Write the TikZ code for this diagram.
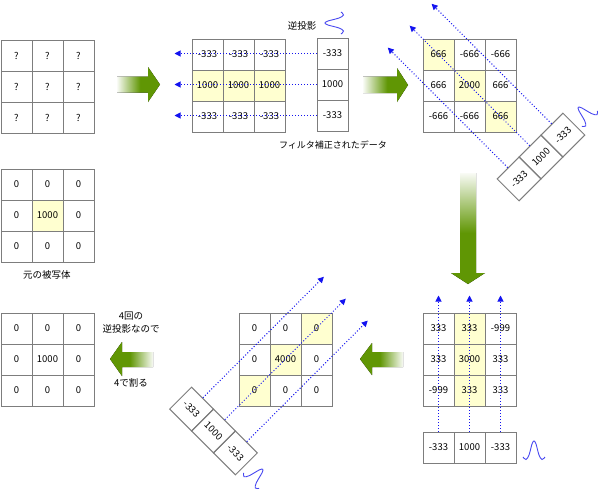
\documentclass[tikz,border=0pt]{standalone}
\usepackage{fontspec}
\setmainfont{Noto Sans CJK JP}
\usetikzlibrary{arrows.meta}
\definecolor{agreen}{RGB}{96,150,4}
\definecolor{cellyel}{RGB}{255,255,208}
\definecolor{gridgray}{RGB}{125,125,125}
\definecolor{dotblue}{RGB}{20,20,240}
\definecolor{waveblue}{RGB}{70,70,240}
\pgfdeclarehorizontalshading{hfade}{100bp}{color(0bp)=(agreen!4); color(25bp)=(agreen!4); color(52bp)=(agreen); color(100bp)=(agreen)}
\tikzset{
 cell/.style={draw=gridgray, line width=1pt, minimum size=31pt, inner sep=0pt, font=\fontsize{9.5}{10}\selectfont},
 proj/.style={dotblue, dotted, line width=1pt, -{Triangle[length=6pt,width=6pt]}},
 wave/.style={waveblue, line width=0.9pt},
 bigarrow/.style={shading=hfade, draw=none},
 lbl/.style={font=\fontsize{9.5}{11}\selectfont, inner sep=0pt}
}
\newcommand\mygrid[4]{%
 \foreach \v/\fc [count=\i from 0] in {#4} {
   \pgfmathtruncatemacro\rr{div(\i,3)}
   \pgfmathtruncatemacro\cc{mod(\i,3)}
   \node[cell, fill=\fc] (#1-\rr\cc) at ({#2+15.5+31*\cc},{#3+15.5+31*\rr}) {\v};
 }}
\begin{document}
\begin{tikzpicture}[x=1pt,y=-1pt]
\useasboundingbox (0,0) rectangle (600,493);
% grids
\mygrid{g1}{1}{40}{?/white,?/white,?/white,?/white,?/white,?/white,?/white,?/white,?/white}
\mygrid{g2}{1}{169}{0/white,0/white,0/white,0/white,1000/cellyel,0/white,0/white,0/white,0/white}
\mygrid{g3}{1}{313}{0/white,0/white,0/white,0/white,1000/white,0/white,0/white,0/white,0/white}
\mygrid{g4}{192}{39}{-333/white,-333/white,-333/white,1000/cellyel,1000/cellyel,1000/cellyel,-333/white,-333/white,-333/white}
\mygrid{g5}{423}{39}{666/cellyel,-666/white,-666/white,666/white,2000/cellyel,666/white,-666/white,-666/white,666/cellyel}
\mygrid{g6}{423}{313}{333/white,333/cellyel,-999/white,333/white,3000/cellyel,333/white,-999/white,333/cellyel,333/white}
\mygrid{g7}{239}{313}{0/white,0/white,0/cellyel,0/white,4000/cellyel,0/white,0/cellyel,0/white,0/white}
% strips
\node[cell] (s4-0) at (332.5,53.5) {-333};
\node[cell] (s4-1) at (332.5,84.5) {1000};
\node[cell] (s4-2) at (332.5,115.5) {-333};
\node[cell] (s6-0) at (438.5,447.5) {-333};
\node[cell] (s6-1) at (469.5,447.5) {1000};
\node[cell] (s6-2) at (500.5,447.5) {-333};
\node[cell, rotate=45] (s5-0) at (519.08,178.92) {-333};
\node[cell, rotate=45] (s5-1) at (541,157) {1000};
\node[cell, rotate=45] (s5-2) at (562.92,135.08) {-333};
\node[cell, rotate=-45] (s7-0) at (191.58,409.08) {-333};
\node[cell, rotate=-45] (s7-1) at (213.5,431) {1000};
\node[cell, rotate=-45] (s7-2) at (235.42,452.92) {-333};
% back projections
\foreach \k in {0,1,2} {
  \draw[proj] (s4-\k.west) -- ++(-142,0);
  \draw[proj] (s6-\k.north) -- ++(0,-136);
  \draw[proj] (s5-\k.north) -- ++(-120,-120);
  \draw[proj] (s7-\k.north) -- ++(121,-121);
}
% big arrows
\fill[bigarrow] (117,76.5) -- (148,76.5) -- (148,67) -- (160,84.5) -- (148,102) -- (148,92.5) -- (117,92.5) -- cycle;
\fill[bigarrow] (363,76.5) -- (397,76.5) -- (397,68) -- (408,85) -- (397,102) -- (397,93) -- (363,93) -- cycle;
\fill[bigarrow, shading angle=-90] (460,173) -- (476,173) -- (476,273) -- (485,273) -- (468,284) -- (451,273) -- (460,273) -- cycle;
\fill[bigarrow, shading angle=180] (403,352) -- (372,352) -- (372,343) -- (360,359) -- (372,375) -- (372,367) -- (403,367) -- cycle;
\fill[bigarrow, shading angle=180] (153,352) -- (122,352) -- (122,342) -- (110,359) -- (122,376) -- (122,367) -- (153,367) -- cycle;
% waves
\draw[wave, shift={(534,459)}] plot[smooth, tension=0.6] coordinates {(-11,-2) (-8,0.5) (-5,-4) (-2,-15) (0,-18) (2,-15) (5,-4) (8,0.5) (11,-2)};
\draw[wave, shift={(343,23)}, rotate=90] plot[smooth, tension=0.6] coordinates {(-11,-2) (-8,0.5) (-5,-4) (-2,-15) (0,-18) (2,-15) (5,-4) (8,0.5) (11,-2)};
\draw[wave, shift={(591,120)}, rotate=45] plot[smooth, tension=0.6] coordinates {(-11,-2) (-8,0.5) (-5,-4) (-2,-15) (0,-18) (2,-15) (5,-4) (8,0.5) (11,-2)};
\draw[wave, shift={(250,482)}, rotate=-45] plot[smooth, tension=0.6] coordinates {(-11,-2) (-8,0.5) (-5,-4) (-2,-15) (0,-18) (2,-15) (5,-4) (8,0.5) (11,-2)};
% labels
\node[lbl] (l1) at (302,26) {逆投影};
\node[lbl, font=\fontsize{9}{10}\selectfont] (l2) at (333,145) {フィルタ補正されたデータ};
\node[lbl] (l3) at (47,275) {元の被写体};
\node[lbl] (l4) at (131,316) {4回の};
\node[lbl] (l5) at (131,329) {逆投影なので};
\node[lbl] (l6) at (131,383) {4で割る};
\end{tikzpicture}
\end{document}
